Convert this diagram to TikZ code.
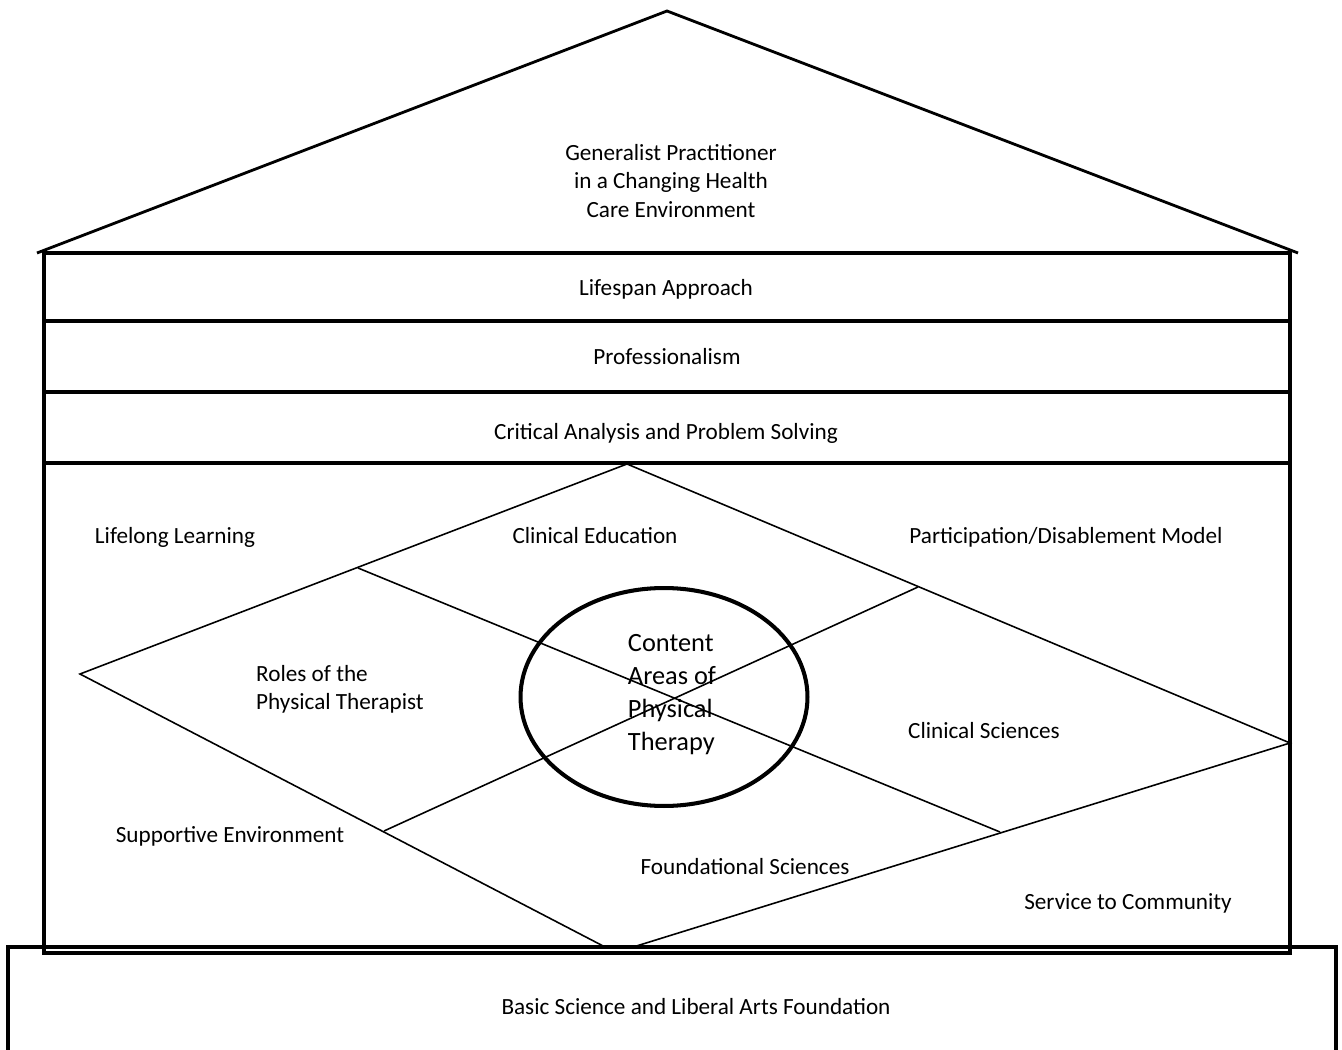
\documentclass[tikz,border=0pt]{standalone}
\usepackage{fontspec}
\setmainfont{Carlito}
\usepackage{tikz}
\usetikzlibrary{shapes.geometric}
\tikzset{
  frame/.style={
    line width=1.8pt,
    draw=black
    },
  grid/.style={
    line width=0.9pt,
    draw=black
    },
  lbl/.style={
    align=center,
    inner sep=0pt,
    font=\fontsize{13.2}{16}\selectfont
    },
  core/.style={
    ellipse,
    draw=black,
    line width=2.3pt,
    minimum width=5.74cm,
    minimum height=4.36cm
    },
}

\begin{document}
\begin{tikzpicture}[
            x = 0.02cm, % one unit per pixel
            y = -0.02cm, % rows run downward
            line join = miter
        ]
         \useasboundingbox (0,0) rectangle (1342,1050);

         % roof and frame
         \coordinate (eaveL) at (37,253);
         \coordinate (peak) at (667,11);
         \coordinate (eaveR) at (1298,253);
         \draw[line width=1.6pt] (eaveL) -- (peak) -- (eaveR);
         \draw[frame] (8,1060) -- (8,947) -- (1336,947) -- (1336,1060);
         \draw[frame] (44,253) rectangle (1290,953);
         \draw[frame] (44,321) -- (1290,321);
         \draw[frame] (44,392) -- (1290,392);
         \draw[frame] (44,463) -- (1290,463);

         % diamond
         \coordinate (dtop) at (627,464);
         \coordinate (dleft) at (80,674);
         \coordinate (dright) at (1290,743);
         \coordinate (dbotl) at (607,948);
         \coordinate (dbotr) at (630,948);
         \coordinate (qa) at (358,568);
         \coordinate (qb) at (1000,832);
         \coordinate (qc) at (918,587);
         \coordinate (qd) at (384,831);
         \draw[grid] (dbotl) -- (dleft) -- (dtop) -- (dright) -- (dbotr);
         \draw[grid] (qa) -- (qb);
         \draw[grid] (qc) -- (qd);

         \node[core] (core) at (664,697) {};
         \node[lbl, align=left, font=\fontsize{15}{18.8}\selectfont] (coretxt) at (672,695)
             {Content\\Areas of\\Physical\\Therapy};

         % labels
         \node[lbl] (gen) at (671,181) {Generalist Practitioner\\in a Changing Health\\Care Environment};
         \node[lbl] (life) at (666,289) {Lifespan Approach};
         \node[lbl] (prof) at (667,357) {Professionalism};
         \node[lbl] (crit) at (666,433) {Critical Analysis and Problem Solving};
         \node[lbl] (llearn) at (175,537) {Lifelong Learning};
         \node[lbl] (cled) at (595,536) {Clinical Education};
         \node[lbl] (part) at (1066,537) {Participation/Disablement Model};
         \node[lbl, align=left] (roles) at (340,689) {Roles of the\\Physical Therapist};
         \node[lbl] (clsci) at (984,731) {Clinical Sciences};
         \node[lbl] (supp) at (230,836) {Supportive Environment};
         \node[lbl] (found) at (745,867) {Foundational Sciences};
         \node[lbl] (serv) at (1128,903) {Service to Community};
         \node[lbl] (basic) at (696,1007) {Basic Science and Liberal Arts Foundation};
\end{tikzpicture}
\end{document}
